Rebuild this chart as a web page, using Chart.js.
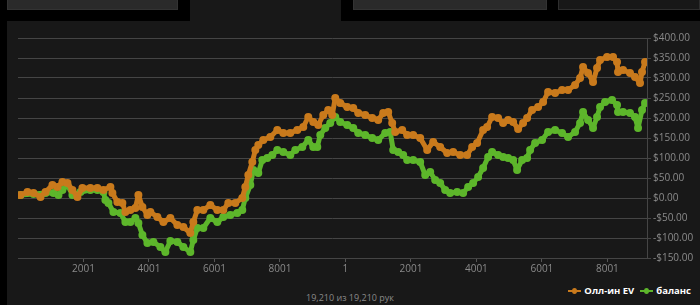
<!DOCTYPE html>
<html>
<head>
<meta charset="utf-8">
<script src="https://cdn.jsdelivr.net/npm/chart.js@4"></script>
<style>
  html, body { margin: 0; padding: 0; background: #000; width: 700px; height: 305px; overflow: hidden; font-family: 'Open Sans', sans-serif; }
  .tab { position: absolute; top: 0; height: 10px; box-sizing: border-box; }
  .tab.gray { background: #2a2a2a; border: 1px solid #333; border-top: none; }
  .tab.dark { background: #181818; border: 1px solid #2e2e2e; border-top: none; }
  #panel { position: absolute; left: 7px; top: 21px; width: 693px; height: 284px; background: #181818; }
  #sel { position: absolute; left: 190px; top: 0; width: 151px; height: 21px; background: #181818; }
  #chart-wrap { position: absolute; left: 7px; top: 21px; width: 693px; height: 255px; }
  #legend { position: absolute; top: 284px; right: 9px; display: flex; align-items: center; font-size: 9.5px; font-weight: bold; color: #fff; }
  .item { display: flex; align-items: center; margin-left: 6px; }
  .icon { position: relative; width: 13px; height: 2px; margin-right: 3px; }
  .icon i { position: absolute; left: 4px; top: -2px; width: 5px; height: 6px; border-radius: 50%; }
  #footer { position: absolute; top: 291px; left: 0; width: 700px; text-align: center; font-size: 9px; color: #8a8a8a; }
</style>
</head>
<body>
<div class="tab gray" style="left:7px; width:171px;"></div>
<div id="sel"></div>
<div class="tab gray" style="left:353px; width:194px;"></div>
<div class="tab dark" style="left:558px; width:142px;"></div>
<div id="panel"></div>
<div id="chart-wrap"><canvas id="chart"></canvas></div>
<div id="legend">
  <div class="item"><span class="icon" style="background:#c97a1c"><i style="background:#c97a1c"></i></span>Олл-ин EV</div>
  <div class="item"><span class="icon" style="background:#5db62b"><i style="background:#5db62b"></i></span>баланс</div>
</div>
<div id="footer">19,210 из 19,210 рук</div>
<script>
// hands and values
const evHands = [76, 290, 473, 687, 840, 1052, 1205, 1357, 1510, 1662, 1815, 1967, 2211, 2425, 2608, 2822, 2883, 3035, 3188, 3280,
  3433, 3585, 3677, 3799, 3952, 4043, 4257, 4440, 4653, 4867, 5050, 5263, 5355, 5477, 5660, 5874, 6087, 6270, 6423, 6636,
  6850, 6942, 7034, 7156, 7248, 7339, 7492, 7705, 7919, 8102, 8316, 8530, 8713, 8865, 9018, 9170, 9323, 9475, 9597, 9689,
  9841, 10055, 10238, 10391, 10604, 10818, 11001, 11154, 11306, 11428, 11520, 11733, 11886, 12069, 12283, 12497, 12680, 12893, 13107, 13290,
  13504, 13717, 13870, 14022, 14205, 14327, 14480, 14663, 14816, 14968, 15121, 15274, 15426, 15548, 15701, 15884, 16037, 16189, 16403, 16616,
  16800, 17013, 17166, 17257, 17410, 17562, 17684, 17776, 17990, 18173, 18295, 18325, 18478, 18691, 18844, 18997, 19058, 19150];
const evValues = [7.5, 15, 12.5, 2.5, 15, 32.5, 27.5, 40, 37.5, 20, 2.5, 25, 25, 25, 20, 27.5, 12.5, -10, -12.5, -35,
  -30, -25, 7.5, -22.5, -42.5, -35, -47.5, -60, -50, -67.5, -72.5, -87.5, -60, -30, -30, -17.5, -30, -30, -12.5, -12.5,
  0, 27.5, 57.5, 90, 120, 132.5, 145, 152.5, 170, 162.5, 162.5, 170, 177.5, 202.5, 190, 182.5, 207.5, 220, 207.5, 250,
  237.5, 227.5, 225, 212.5, 207.5, 200, 195, 212.5, 215, 187.5, 165, 170, 157.5, 157.5, 150, 120, 140, 127.5, 112.5, 115,
  107.5, 107.5, 127.5, 137.5, 170, 177.5, 202.5, 200, 187.5, 195, 190, 172.5, 187.5, 200, 220, 227.5, 240, 265, 262.5, 270,
  270, 282.5, 300, 327.5, 312.5, 290, 325, 345, 352.5, 352.5, 340, 315, 320, 312.5, 302.5, 287.5, 315, 340];

const balHands = [76, 473, 840, 1083, 1236, 1357, 1510, 1662, 1907, 2211, 2425, 2608, 2669, 2761, 2914, 3127, 3280, 3433, 3585, 3677,
  3799, 3952, 4135, 4349, 4501, 4653, 4867, 5050, 5263, 5355, 5477, 5660, 5874, 6087, 6270, 6484, 6697, 6850, 6942, 7095,
  7187, 7339, 7461, 7614, 7767, 7919, 8102, 8316, 8469, 8682, 8865, 9018, 9140, 9231, 9384, 9536, 9689, 9841, 10055, 10238,
  10391, 10604, 10818, 11001, 11215, 11367, 11459, 11611, 11764, 11886, 12069, 12283, 12436, 12589, 12741, 12893, 13046, 13198, 13412, 13595,
  13748, 13900, 14053, 14205, 14358, 14480, 14663, 14816, 14968, 15121, 15243, 15396, 15548, 15640, 15793, 16006, 16189, 16403, 16616, 16800,
  17013, 17166, 17257, 17410, 17562, 17684, 17776, 17929, 18142, 18295, 18325, 18478, 18691, 18844, 18936, 19058, 19150];
const balValues = [7.5, 10, 12.5, 12.5, 7.5, 20, 32.5, 7.5, 15, 20, 20, 15, -5, -12.5, -35, -37.5, -60, -60, -50, -62.5,
  -92.5, -112.5, -110, -122.5, -135, -107.5, -110, -122.5, -135, -105, -75, -75, -50, -60, -47.5, -42.5, -37.5, -30, 0, 32.5,
  70, 62.5, 95, 100, 107.5, 120, 115, 107.5, 120, 127.5, 145, 127.5, 127.5, 157.5, 175, 187.5, 202.5, 190, 182.5, 175,
  162.5, 157.5, 150, 145, 162.5, 165, 120, 115, 107.5, 95, 95, 90, 57.5, 65, 45, 37.5, 20, 12.5, 15, 12.5,
  27.5, 37.5, 52.5, 75, 102.5, 115, 107.5, 102.5, 100, 95, 70, 95, 100, 120, 137.5, 145, 165, 170, 162.5, 152.5,
  165, 187.5, 215, 195, 175, 202.5, 227.5, 240, 245, 232.5, 215, 215, 212.5, 202.5, 175, 220, 237.5];

const xTickValues = [2000, 4000, 6000, 8000, 10000, 12000, 14000, 16000, 18000];
const xTickLabels = ['2001', '4001', '6001', '8001', '1', '2001', '4001', '6001', '8001'];
const totalHands = 19210;

const evColor = '#c97a1c';
const balColor = '#5db62b';
const gridColor = '#454545';
const tickColor = '#8a8a8a';

function toPoints(hands, values) {
  return hands.map((h, i) => ({ x: h, y: values[i] }));
}

function money(v) {
  return (v < 0 ? '-$' : '$') + Math.abs(v).toFixed(2);
}

function lineDataset(label, data, color) {
  return {
    label, data,
    borderColor: color, backgroundColor: color,
    pointBackgroundColor: color, pointBorderColor: color,
    borderWidth: 5, pointRadius: 1.5, pointHoverRadius: 1.5,
    borderJoinStyle: 'round', borderCapStyle: 'round',
    tension: 0, fill: false
  };
}

new Chart(document.getElementById('chart'), {
  type: 'line',
  data: {
    datasets: [
      lineDataset('Олл-ин EV', toPoints(evHands, evValues), evColor),
      lineDataset('баланс', toPoints(balHands, balValues), balColor)
    ]
  },
  options: {
    responsive: true,
    maintainAspectRatio: false,
    animation: false,
    layout: { padding: { left: 11, top: 17, right: 0, bottom: 0 } },
    plugins: { legend: { display: false }, tooltip: { enabled: false } },
    scales: {
      x: {
        type: 'linear', min: 0, max: totalHands,
        afterBuildTicks: (scale) => { scale.ticks = xTickValues.map(v => ({ value: v })); },
        afterFit: (scale) => { scale.height = 18; },
        grid: { drawOnChartArea: false, drawTicks: true, tickLength: 4, color: '#555' },
        border: { display: true, color: gridColor },
        ticks: {
          autoSkip: false, maxRotation: 0, padding: 1, color: tickColor,
          font: { family: 'Open Sans', size: 10 },
          callback: (v, i) => xTickLabels[i]
        }
      },
      y: {
        position: 'right', min: -150, max: 400,
        afterFit: (scale) => { scale.width = 53; },
        grid: { color: gridColor, tickLength: 4 },
        border: { display: true, color: gridColor },
        ticks: {
          stepSize: 50, padding: 2, color: tickColor,
          font: { family: 'Open Sans', size: 10 },
          callback: (v) => money(v)
        }
      }
    }
  }
});
</script>
</body>
</html>
